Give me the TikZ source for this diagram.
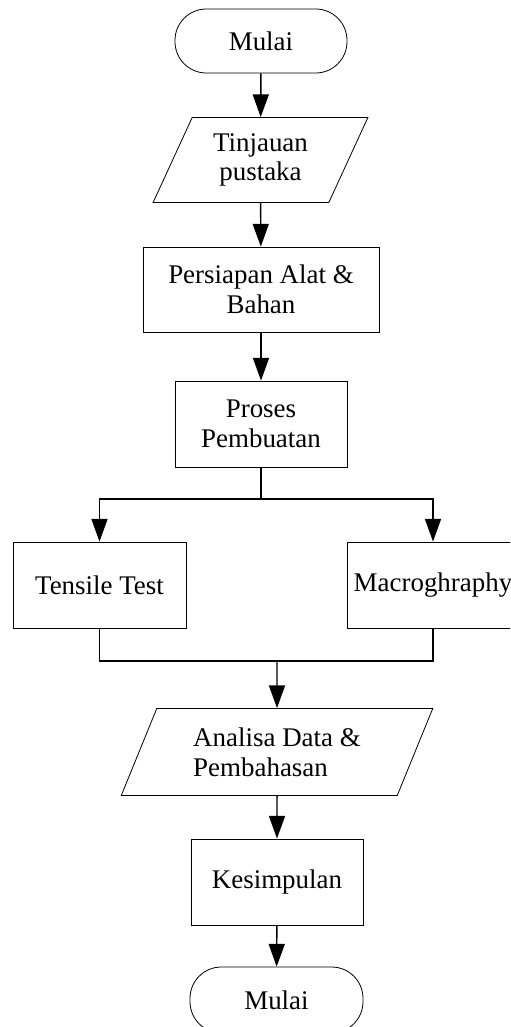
\documentclass[tikz,border=0pt]{standalone}
\usepackage{fontspec}
\setmainfont{Liberation Serif}
\usetikzlibrary{shapes.geometric, arrows.meta}

\begin{document}
\begin{tikzpicture}[x=0.75pt, y=-0.75pt,
		huruf/.style={font=\fontsize{20.2}{22.2}\selectfont},
		kotak/.style={draw, line width=0.6pt, huruf, align=center, inner sep=0pt,
			minimum width=172*0.75pt, minimum height=86*0.75pt},
		terminal/.style={kotak, rounded corners=23.5pt, minimum height=64*0.75pt},
		jajar/.style={kotak, trapezium, trapezium left angle=63, trapezium right angle=117,
			trapezium stretches=true},
		panah/.style={line width=1.1pt, -{Triangle[length=17pt, width=12pt]}},
		garis/.style={line width=1.1pt}]

	\path[use as bounding box, clip] (0,0) rectangle (510,1027);

	% alur utama
	\node[terminal] (mulai) at (261,41) {Mulai};
	\node[jajar, minimum width=215*0.75pt, minimum height=85*0.75pt] (tinjauan) at (260.5,160) {Tinjauan\\pustaka};
	\node[kotak, minimum width=236*0.75pt, minimum height=85*0.75pt] (persiapan) at (261,289.5) {Persiapan Alat \&\\Bahan};
	\node[kotak] (proses) at (261,424) {Proses\\Pembuatan};

	% pengujian
	\node[kotak, minimum width=173*0.75pt] (tensile) at (99.5,585) {Tensile Test};
	\node[kotak] (macro) at (433,585) {Macroghraphy};

	\node[jajar, align=left, minimum width=312*0.75pt, minimum height=87*0.75pt] (analisa) at (277,752) {Analisa Data \&\\Pembahasan};
	\node[kotak] (kesimpulan) at (277,882) {Kesimpulan};
	\node[terminal, minimum width=173*0.75pt, minimum height=66*0.75pt] (selesai) at (276.5,1000) {Mulai};

	\coordinate (cabang) at (261,499);
	\coordinate (gabung) at (277,661);

	\foreach \a/\b in {mulai/tinjauan, tinjauan/persiapan, persiapan/proses, analisa/kesimpulan, kesimpulan/selesai}
	{
		\draw[panah] (\a) -- (\b);
	}

	\draw[garis] (proses) -- (cabang);
	\draw[panah] (cabang) -| (tensile);
	\draw[panah] (cabang) -| (macro);
	\draw[garis] (tensile) |- (gabung) -| (macro);
	\draw[panah] (gabung) -- (analisa);
\end{tikzpicture}
\end{document}
